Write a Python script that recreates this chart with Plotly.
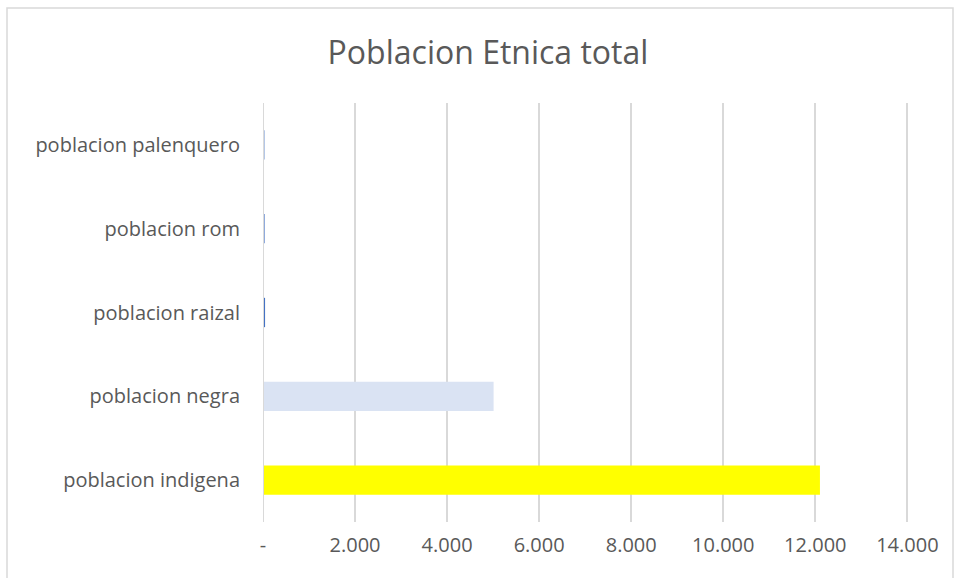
import plotly.graph_objects as go

# data
categories = ["poblacion indigena", "poblacion negra", "poblacion raizal",
              "poblacion rom", "poblacion palenquero"]
values = [12100, 5010, 45, 35, 30]
bar_colors = ["#ffff00", "#dae3f3", "#4472c4", "#8faadc", "#b4c7e7"]

tick_vals = [0, 2000, 4000, 6000, 8000, 10000, 12000, 14000]
tick_text = ["-", "2.000", "4.000", "6.000", "8.000", "10.000", "12.000", "14.000"]

FONT = "Open Sans"
GREY = "#595959"
W, H = 955, 578
L, R, T, B = 263, 43, 103, 56
PW, PH = W - L - R, H - T - B

fig = go.Figure()
fig.add_trace(go.Bar(
    y=categories, x=values, orientation="h",
    marker=dict(color=bar_colors, line=dict(width=0)),
    width=0.35, showlegend=False,
))

fig.update_layout(
    width=W, height=H,
    margin=dict(l=L, r=R, t=T, b=B),
    paper_bgcolor="white", plot_bgcolor="white",
    title=dict(text="Poblacion Etnica total", xref="container",
               x=488 / W, xanchor="center",
               yref="container", y=1 - 53 / H, yanchor="middle",
               font=dict(family=FONT, size=32, color=GREY)),
    font=dict(family=FONT, color=GREY),
)

# a little slack past 14.000 so its gridline is drawn
fig.update_xaxes(
    range=[0, 14100], tickvals=tick_vals, ticktext=tick_text,
    showgrid=True, gridcolor="#d9d9d9", gridwidth=1.5,
    zeroline=False, showline=False,
    tickfont=dict(family=FONT, size=20, color=GREY),
    ticklabelstandoff=9, fixedrange=True,
)
fig.update_yaxes(
    showgrid=False, zeroline=False, showline=False,
    tickfont=dict(family=FONT, size=20, color=GREY),
    ticklabelstandoff=22, fixedrange=True,
)

# axis line at zero and chart border (pixel positions -> paper fractions)
fig.add_shape(type="line", xref="x", yref="paper", x0=0, x1=0, y0=0, y1=1,
              line=dict(color="#d9d9d9", width=2))
fig.add_shape(type="rect", xref="paper", yref="paper",
              x0=(7 - L) / PW, x1=(953 - L) / PW,
              y0=((H - B) - 590) / PH, y1=((H - B) - 8) / PH,
              line=dict(color="#d9d9d9", width=1.5), fillcolor="rgba(0,0,0,0)")

# drop the page's default body margin so the figure sits at the corner
fig.write_html("out.html", config={"displayModeBar": False},
               post_script="document.body.style.margin='0';")
